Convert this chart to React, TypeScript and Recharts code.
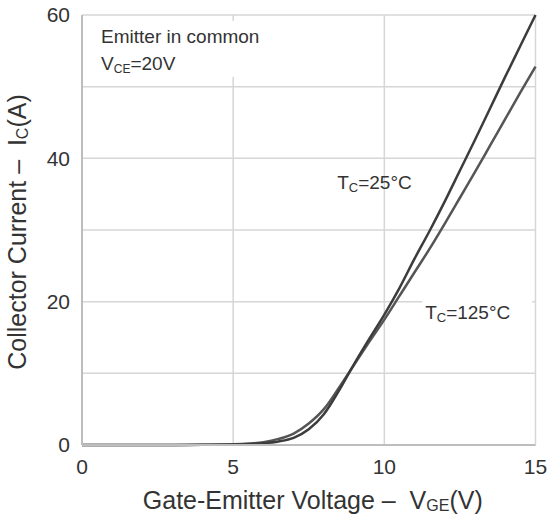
import React from "react";
import {
  LineChart,
  Line,
  XAxis,
  YAxis,
  CartesianGrid,
  ReferenceDot,
} from "recharts";

// transfer characteristics, collector current vs gate-emitter voltage
const vge = [0, 1, 2, 3, 4, 5, 5.5, 6, 6.5, 7, 7.5, 8, 8.5, 9, 9.5, 10, 10.5, 11, 11.5, 12, 12.5, 13, 13.5, 14, 14.5, 15];
const ic25 = [0, 0, 0, 0, 0.02, 0.06, 0.12, 0.25, 0.5, 1.0, 2.2, 4.3, 7.6, 11.3, 14.8, 18.2, 21.9, 26.0, 29.9, 34.0, 38.3, 42.6, 47.0, 51.4, 55.7, 60];
const ic125 = [0, 0, 0, 0, 0.03, 0.1, 0.2, 0.4, 0.85, 1.6, 3.0, 5.0, 8.0, 11.2, 14.4, 17.5, 20.8, 24.1, 27.4, 30.9, 34.5, 38.1, 41.8, 45.5, 49.2, 52.8];

const xTicks = [0, 5, 10, 15];
const yTicks = [0, 10, 20, 30, 40, 50, 60];

const rows = vge.map((v, i) => ({ vge: v, t25: ic25[i], t125: ic125[i] }));

const FONT = "'Liberation Sans', Arial, sans-serif";
const INK = "#333";
const SP = "\u00A0";

const ConditionNote = (p: any) => (
  <g>
    <rect x={p.cx - 12} y={p.cy - 22} width={180} height={56} fill="#fff" />
    <text x={p.cx} y={p.cy} fontSize={19} fill={INK} fontFamily={FONT}>
      Emitter in common
    </text>
    <text x={p.cx} y={p.cy + 27} fontSize={19} fill={INK} fontFamily={FONT}>
      V
      <tspan fontSize={12} dy={3}>CE</tspan>
      <tspan dy={-3}>=20V</tspan>
    </text>
  </g>
);

const TempNote = (label: string, boxed: boolean) => (p: any) => (
  <g>
    {boxed && <rect x={p.cx - 3} y={p.cy - 18} width={110} height={26} fill="#fff" />}
    <text x={p.cx} y={p.cy} fontSize={19} fill={INK} fontFamily={FONT}>
      T
      <tspan fontSize={13} dy={3}>C</tspan>
      <tspan dy={-3}>{label}</tspan>
    </text>
  </g>
);

const XTitle = ({ viewBox }: any) => (
  <text
    x={viewBox.x + viewBox.width / 2 + 4}
    y={viewBox.y + 64}
    textAnchor="middle"
    fontSize={25}
    fill={INK}
    fontFamily={FONT}
  >
    {`Gate-Emitter Voltage${SP}–${SP}${SP}V`}
    <tspan fontSize={16} dy={2}>GE</tspan>
    <tspan dy={-2}>(V)</tspan>
  </text>
);

const YTitle = ({ viewBox }: any) => {
  const x = viewBox.x + 26;
  const y = viewBox.y + viewBox.height / 2 + 2;
  return (
    <text
      x={x}
      y={y}
      transform={`rotate(-90 ${x} ${y})`}
      textAnchor="middle"
      fontSize={25}
      fill={INK}
      fontFamily={FONT}
    >
      {`Collector Current${SP}–${SP}${SP}I`}
      <tspan fontSize={16} dy={2}>C</tspan>
      <tspan dy={-2}>(A)</tspan>
    </text>
  );
};

export default function App() {
  return (
    <div style={{ position: "absolute", left: 0, top: 0, background: "#fff" }}>
      <LineChart
        width={548}
        height={519}
        data={rows}
        margin={{ top: 15, right: 12.5, bottom: 0, left: 0 }}
      >
        <CartesianGrid stroke="#d6d6d6" strokeWidth={1.5} />
        <XAxis
          dataKey="vge"
          type="number"
          domain={[0, 15]}
          ticks={xTicks}
          height={74}
          tickLine={false}
          tickSize={0}
          tickMargin={14}
          axisLine={{ stroke: "#bdbdbd", strokeWidth: 2 }}
          tick={{ fontSize: 21, fill: INK, fontFamily: FONT }}
          label={<XTitle />}
        />
        <YAxis
          type="number"
          domain={[0, 60]}
          ticks={yTicks}
          width={82}
          tickLine={false}
          tickSize={0}
          tickMargin={12}
          axisLine={{ stroke: "#bdbdbd", strokeWidth: 2 }}
          tick={{ fontSize: 21, fill: INK, fontFamily: FONT }}
          tickFormatter={(v: number) => (v % 20 === 0 ? String(v) : "")}
          label={<YTitle />}
        />
        <ReferenceDot x={0.63} y={56.1} r={0} shape={ConditionNote} />
        <ReferenceDot x={8.44} y={35.7} r={0} shape={TempNote("=25°C", false)} />
        <ReferenceDot x={11.35} y={17.6} r={0} shape={TempNote("=125°C", true)} />
        <Line
          type="monotone"
          dataKey="t125"
          stroke="#555"
          strokeWidth={2.5}
          dot={false}
          isAnimationActive={false}
        />
        <Line
          type="monotone"
          dataKey="t25"
          stroke="#3c3c3c"
          strokeWidth={2.5}
          dot={false}
          isAnimationActive={false}
        />
      </LineChart>
    </div>
  );
}
